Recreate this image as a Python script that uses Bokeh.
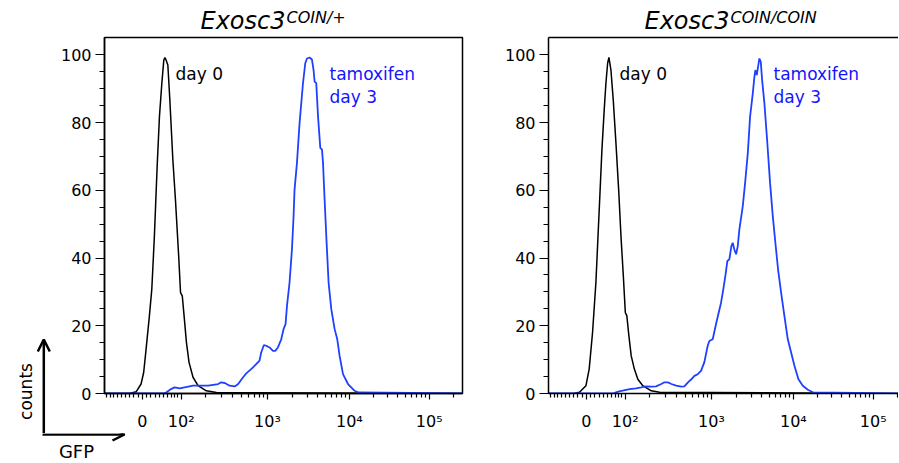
import numpy as np
from bokeh.plotting import figure
from bokeh.models import Range1d, FixedTicker, Label, Arrow, OpenHead, LinearAxis
from bokeh.layouts import row, column
from bokeh.embed import file_html
from bokeh.resources import INLINE

# ---------------- data (GFP intensity, counts normalised to mode) ----------------
# Exosc3 COIN/+  , day 0 (black)
left_day0_gfp = [-97, -30, -14.5, -3, 3, 8.6, 16.3, 21.9, 28, 34.6, 40.2, 46.1, 51, 53.7, 57, 61.5,
                 66.8, 75.1, 82.5, 92.1, 97.8, 103.4, 109.3, 117.2, 126.5, 141.5, 162.5, 202, 262, 262144]
left_day0_cnt = [0, 0, 0.5, 2.8, 6.2, 13.1, 22.9, 30.8, 46.4, 67.0, 81.8, 91.6, 98.4, 99.2, 98.4, 97.0,
                 86.7, 69.0, 57.2, 40.6, 29.8, 28.8, 22.9, 15.1, 9.2, 4.8, 2.3, 0.8, 0.3, 0]
# Exosc3 COIN/+  , tamoxifen day 3 (blue)
left_tam_gfp = [-97, 50, 57, 70, 80, 95, 111, 142, 212, 274, 296, 325, 368, 420, 459, 522, 571, 646, 738, 807,
                844, 908, 967, 1058, 1160, 1236, 1330, 1457, 1553, 1642, 1707, 1834, 1961, 2052, 2109, 2255,
                2427, 2672, 2849, 2989, 3218, 3443, 3602, 3709, 3889, 4087, 4360, 4576, 4712, 4930, 5171,
                5521, 5964, 6561, 7073, 7565, 8333, 9622, 11628, 13061, 262144]
left_tam_cnt = [0, 0, 0.3, 1.3, 1.8, 1.5, 1.8, 2.3, 2.3, 2.8, 3.3, 3.1, 2.3, 2.1, 2.8, 4.8, 6.0, 7.2, 8.7, 9.7,
                12.1, 14.3, 14.1, 13.6, 12.6, 12.6, 13.6, 16.0, 19.0, 20.5, 25.8, 32.7, 42.5, 52.3, 60.2, 68.0,
                79.8, 91.6, 97.5, 98.9, 99.2, 98.6, 95.5, 92.1, 91.6, 81.8, 72.5, 72.0, 68.0, 57.2, 46.4,
                32.7, 24.9, 19.0, 16.0, 11.1, 5.7, 2.8, 0.8, 0.3, 0]
# Exosc3 COIN/COIN, day 0 (black)
right_day0_gfp = [-97, -30, -16, -1, 6.5, 14.3, 22.1, 30, 36.5, 42.1, 46.3, 50.6, 53.9, 59.1, 65.2, 72.6,
                  80.2, 87.0, 94.1, 100.3, 105.2, 112.0, 120, 131.3, 144.8, 165.8, 206.8, 256.5, 262144]
right_day0_cnt = [0, 0, 0.35, 2.3, 7.2, 18.0, 32.7, 54.3, 72.0, 83.8, 91.6, 97.5, 99.2, 95.5, 86.7, 73.9,
                  60.2, 46.4, 34.7, 23.9, 22.9, 17.0, 11.1, 7.2, 4.2, 2.3, 0.8, 0.35, 0]
# Exosc3 COIN/COIN, tamoxifen day 3 (blue)
right_tam_gfp = [-97, 65, 72.6, 81.9, 114.4, 137.8, 158.7, 180.5, 206.8, 234.3, 267.9, 290, 317.8, 347.4,
                 391.9, 448.4, 485.9, 533.8, 583.2, 632.5, 690.6, 754, 824, 903, 944, 1034, 1132, 1219, 1298,
                 1383, 1462, 1545, 1633, 1726, 1794, 1876, 1969, 2063, 2157, 2374, 2533, 2733, 2915, 3147,
                 3293, 3386, 3522, 3657, 3793, 3946, 4096, 4372, 4722, 5140, 5555, 5977, 6457, 7041, 7737,
                 8524, 9381, 10314, 11575, 13127, 15166, 17519, 262144]
right_tam_cnt = [0, 0, 0.35, 0.6, 1.3, 1.5, 1.8, 2.1, 2.0, 2.1, 2.8, 3.3, 3.3, 2.8,
                 2.3, 2.0, 2.1, 3.3, 4.2, 5.2, 5.7, 6.7, 9.2, 14.1, 15.5, 16.0, 20.5, 23.9, 26.8,
                 30.8, 34.7, 39.1, 39.6, 43.5, 44.5, 42.5, 41.1, 43.5, 48.4, 55.3, 62.1, 70.9, 81.7, 88.6,
                 93.5, 95.5, 94.0, 96.5, 98.9, 97.9, 92.6, 85.7, 74.9, 62.1, 52.3, 44.5, 36.6, 29.8, 22.9,
                 16.0, 12.1, 8.2, 4.2, 2.3, 1.1, 0.35, 0]

x_major_values = [0, 100, 1000, 10000, 100000]
x_major_labels = ["0", "10²", "10³", "10⁴", "10⁵"]
x_minor_values = ([-v for v in range(10, 100, 10)] + list(range(10, 100, 10)) + list(range(200, 1000, 100))
                  + list(range(2000, 10000, 1000)) + list(range(20000, 100000, 10000)) + [200000])
y_major_values = [0, 20, 40, 60, 80, 100]
y_minor_values = [v for v in range(5, 100, 5) if v % 20 != 0]

titles = [("Exosc3", "COIN/+"), ("Exosc3", "COIN/COIN")]

# ---------------- logicle (biexponential) display scale ----------------
T, W, M = 262144.0, 0.476, 4.5


def logicle_params(T, W, M):
    w = W / M
    x1 = w
    x0 = 2 * w
    b = M * np.log(10)
    lo, hi = 1e-6, b
    for _ in range(200):
        mid = 0.5 * (lo + hi)
        g = 2 * (np.log(mid) - np.log(b)) + w * (b + mid)
        if g > 0:
            hi = mid
        else:
            lo = mid
    d = 0.5 * (lo + hi)
    ca = np.exp(x0 * (b + d))
    mfa = np.exp(b * x1) - ca * np.exp(-d * x1)
    a = T / (np.exp(b) - mfa - ca * np.exp(-d))
    return a, b, ca * a, d, -mfa * a, x1


A_, B_, C_, D_, F_, X1_ = logicle_params(T, W, M)


def _S(x):
    return A_ * np.exp(B_ * x) - C_ * np.exp(-D_ * x) + F_


_grid = np.linspace(-0.05, 1.05, 60001)
_vals = np.where(_grid >= X1_, _S(_grid), -_S(2 * X1_ - _grid))


def logicle(v):
    return np.interp(np.asarray(v, dtype=float), _vals, _grid)


FONT = "DejaVu Sans"
BLUE_LINE = "#2040ff"
BLUE_TEXT = "#1414ff"
YMAX = 105.1
TOP_H = 35                      # title strip height
FRAME_TOP, FRAME_BOTTOM = 37, 395
MID_BOTTOM = 433                # bottom of the panel row
PAGE_H = 462


def no_align(fig):
    try:
        fig.frame_align = False
    except Exception:
        pass


def label(p, x, y, text, size, color="black", italic=False, **kw):
    p.add_layout(Label(x=x, y=y, text=text, text_font=FONT, text_font_size=size,
                       text_color=color, text_font_style="italic" if italic else "normal",
                       text_baseline="alphabetic", **kw))


def strip(x0, y0, w, h):
    """Plain figure whose frame is its whole canvas; data units = page pixels."""
    s = figure(width=w, height=h, x_range=Range1d(x0, x0 + w), y_range=Range1d(y0 + h, y0),
               x_axis_type=None, y_axis_type=None, output_backend="svg", toolbar_location=None,
               title=None, min_border=0, min_border_left=0, min_border_right=0,
               min_border_top=0, min_border_bottom=0)
    s.outline_line_color = None
    s.background_fill_color = "white"
    s.border_fill_color = "white"
    no_align(s)
    return s


def make_panel(x0, width, fl, xend, day0, tam, full_box):
    h = MID_BOTTOM - TOP_H
    p = figure(width=width, height=h, x_range=Range1d(0, xend), y_range=Range1d(0, YMAX),
               output_backend="svg", toolbar_location=None, title=None,
               min_border_left=fl - x0, min_border_right=(8 if full_box else 0),
               min_border_top=FRAME_TOP - TOP_H, min_border_bottom=MID_BOTTOM - FRAME_BOTTOM)
    no_align(p)
    p.xgrid.visible = False
    p.ygrid.visible = False
    p.background_fill_color = "white"
    p.border_fill_color = "white"
    if full_box:
        p.outline_line_color = "black"
        p.outline_line_width = 1.5
    else:
        p.outline_line_color = None
        top = LinearAxis(ticker=FixedTicker(ticks=[]), axis_line_width=1.5, axis_line_color="black",
                         major_tick_out=0, minor_tick_out=0, major_label_text_font_size="0px",
                         major_label_standoff=0)
        p.add_layout(top, "above")

    xax = p.below[0]
    yax = p.left[0]
    xt = [float(v) for v in logicle(x_major_values)]
    xm = [float(v) for v in logicle(x_minor_values)]
    xax.ticker = FixedTicker(ticks=xt, minor_ticks=xm)
    xax.major_label_overrides = {t: l for t, l in zip(xt, x_major_labels)}
    yax.ticker = FixedTicker(ticks=y_major_values, minor_ticks=y_minor_values)
    for ax in (xax, yax):
        ax.axis_line_width = 1.5
        ax.axis_line_color = "black"
        ax.major_tick_line_width = 1.2
        ax.minor_tick_line_width = 1.2
        ax.major_tick_line_color = "black"
        ax.minor_tick_line_color = "black"
        ax.major_tick_in = 0
        ax.minor_tick_in = 0
        ax.major_label_text_font = FONT
        ax.major_label_text_font_size = "16px"
        ax.major_label_text_color = "black"
    xax.major_tick_out = 6
    xax.minor_tick_out = 4
    xax.major_label_standoff = 12
    yax.major_tick_out = 9
    yax.minor_tick_out = 5
    yax.major_label_standoff = 4

    p.line(logicle(day0[0]), day0[1], line_color="black", line_width=1.5)
    p.line(logicle(tam[0]), tam[1], line_color=BLUE_LINE, line_width=1.8)

    def X(px):
        return (px - fl) / 358.0

    def Y(py):
        return (FRAME_BOTTOM - py) * YMAX / 358.0

    label(p, X(fl + 71), Y(73.5), "day 0", "17px")
    label(p, X(fl + 225), Y(74), "tamoxifen", "17px", BLUE_TEXT)
    label(p, X(fl + 225), Y(96.5), "day 3", "17px", BLUE_TEXT)
    return p


KEY_W = 56
FL1, FL2 = 104, 548
W1 = 470 - KEY_W
W2 = 898 - 470

# title strip (y positions compensated for the flipped strip's text placement)
top = strip(0, 0, 898, TOP_H)
for fl, (main, sup) in zip((FL1, FL2), titles):
    label(top, fl + 96, 20.3, main, "24px", italic=True)
    label(top, fl + 182, 17.0, sup, "16px", italic=True)

# left key strip (vertical arrow + "counts")
key = strip(0, TOP_H, KEY_W, MID_BOTTOM - TOP_H)
head = dict(size=12, line_width=2.5, line_color="black")
key.add_layout(Arrow(end=OpenHead(**head), x_start=43.3, y_start=MID_BOTTOM + 2, x_end=43.3, y_end=339,
                     line_width=2.5, line_color="black"))
label(key, 25, 391, "counts", "17px", angle=np.pi / 2, text_align="center")

p1 = make_panel(KEY_W, W1, FL1, 1.0, (left_day0_gfp, left_day0_cnt), (left_tam_gfp, left_tam_cnt), True)
p2 = make_panel(470, W2, FL2, (W2 - (FL2 - 470)) / 358.0, (right_day0_gfp, right_day0_cnt),
                (right_tam_gfp, right_tam_cnt), False)

# bottom strip (horizontal arrow + "GFP")
bot = strip(0, MID_BOTTOM, 898, PAGE_H - MID_BOTTOM)
bot.add_layout(Arrow(end=OpenHead(**head), x_start=42.05, y_start=434.0, x_end=124, y_end=434.0,
                     line_width=2.5, line_color="black"))
label(bot, 76, 451.0, "GFP", "18px", text_align="center")

layout = column(top, row(key, p1, p2), bot)
open("out.html", "w").write(file_html(layout, INLINE))
